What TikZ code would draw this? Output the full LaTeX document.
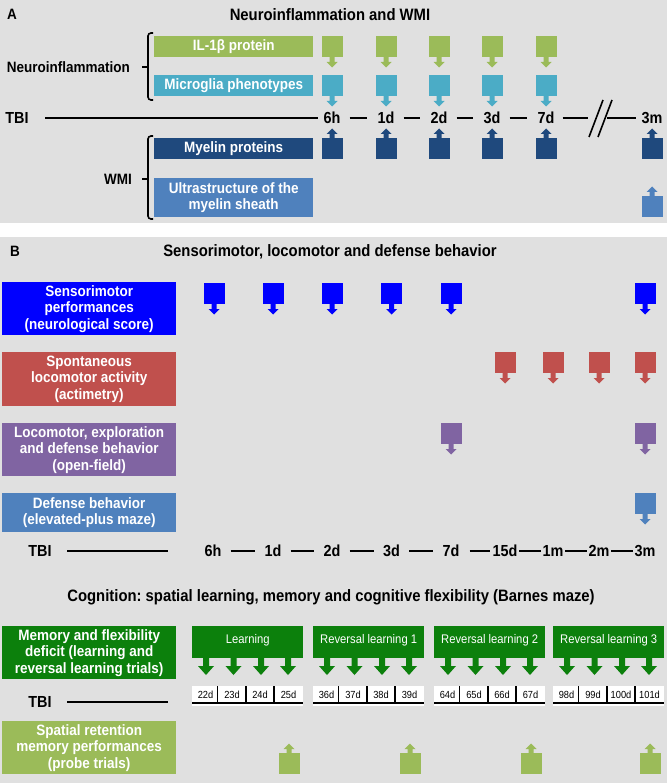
\documentclass[tikz,border=0pt]{standalone}
\usepackage{fontspec}
\setmainfont{Liberation Sans}[FakeStretch=0.9]
\definecolor{bg}{HTML}{E0E0E0}
\definecolor{lgreen}{HTML}{9BBB59}
\definecolor{cyanA}{HTML}{4BACC6}
\definecolor{navyA}{HTML}{1F497D}
\definecolor{mblue}{HTML}{4F81BD}
\definecolor{pblue}{HTML}{0000FF}
\definecolor{redB}{HTML}{C0504D}
\definecolor{purpB}{HTML}{8064A2}
\definecolor{dgreen}{HTML}{0C800C}
\tikzset{
  lab/.style={font=\fontsize{15}{17}\selectfont\bfseries, inner sep=1pt},
  tlab/.style={font=\fontsize{16}{18}\selectfont\bfseries, inner sep=1pt},
  ttl/.style={font=\fontsize{16.5}{18}\selectfont\bfseries, inner sep=1pt},
  box/.style={font=\fontsize{15}{16.5}\selectfont\bfseries, text=white, align=center, inner sep=0pt, anchor=north west},
  gbox/.style={font=\fontsize{12.5}{14}\selectfont, text=white, inner sep=0pt, anchor=north west, fill=dgreen,
    minimum width=111pt, minimum height=32pt, text height=9pt, text depth=6pt},
  sq/.style={minimum size=21pt, inner sep=0pt, outer sep=0pt},
  day/.style={font=\fontsize{10.3}{12}\selectfont, inner sep=0pt},
  tl/.style={line width=1.5pt},
  brk/.style={line width=1.6pt, rounded corners=3pt},
  pics/dn/.style={code={\fill[#1] (-2.5,-0.3) -- (2.5,-0.3) -- (2.5,5) -- (5.5,5) -- (0,10.5) -- (-5.5,5) -- (-2.5,5) -- cycle;}},
  pics/up/.style={code={\fill[#1] (-2.5,0.3) -- (2.5,0.3) -- (2.5,-4) -- (5.5,-4) -- (0,-9.5) -- (-5.5,-4) -- (-2.5,-4) -- cycle;}},
  pics/bigdn/.style={code={\fill[#1] (-3,-0.3) -- (3,-0.3) -- (3,8) -- (8,8) -- (0,17) -- (-8,8) -- (-3,8) -- cycle;}},
}
\begin{document}
\frenchspacing
\begin{tikzpicture}[x=1pt,y=-1pt]
\useasboundingbox (0,0) rectangle (667,783);
\fill[white] (0,0) rectangle (667,783);
\fill[bg] (0,0) rectangle (667,223);
\fill[bg] (0,237) rectangle (667,783);

% ---------------- Panel A ----------------
\node[lab] (A) at (12,14) {A};
\node[ttl] (titleA) at (330,15) {Neuroinflammation and WMI};

\node[lab, anchor=east] (neuro) at (131,67) {Neuroinflammation};
\node[lab, anchor=east] (wmi) at (133,179) {WMI};
\draw[brk] (153,33) -- (148,33) -- (148,100) -- (153,100);
\draw[line width=1.6pt] (142,67) -- (148,67);
\draw[brk] (153,136) -- (148,136) -- (148,219) -- (153,219);
\draw[line width=1.6pt] (142,179) -- (148,179);

\node[box, fill=lgreen, minimum width=159pt, minimum height=21pt] (il) at (154,36) {IL-1β protein};
\node[box, fill=cyanA, minimum width=159pt, minimum height=21pt] (mic) at (154,75) {Microglia phenotypes};
\node[box, fill=navyA, minimum width=159pt, minimum height=21pt] (mye) at (154,138) {Myelin proteins};
\node[box, fill=mblue, minimum width=159pt, minimum height=39pt] (ult) at (154,178) {Ultrastructure of the\\myelin sheath};

\node[tlab, anchor=center] (tbiA) at (17,118) {TBI};
\coordinate (tbiAs) at (45,118);
\coordinate (tbiAe) at (318,118);
\draw[tl] (tbiAs) -- (tbiAe);

\foreach \x/\n/\t in {332/1/6h,386/2/1d,439/3/2d,492/4/3d,546/5/7d} {
  \node[tlab] (ta\n) at (\x,118) {\t};
  \node[sq, fill=lgreen] (g\n) at (\x,46.5) {};
  \pic at (g\n.south) {dn=lgreen};
  \node[sq, fill=cyanA] (c\n) at (\x,85.5) {};
  \pic at (c\n.south) {dn=cyanA};
  \node[sq, fill=navyA] (m\n) at (\x,148.5) {};
  \pic at (m\n.north) {up=navyA};
}
\node[tlab] (ta6) at (652,118) {3m};
\node[sq, fill=navyA] (m6) at (652,148.5) {};
\pic at (m6.north) {up=navyA};
\node[sq, fill=mblue] (u6) at (652,206.5) {};
\pic at (u6.north) {up=mblue};

\foreach \a/\b in {1/2,2/3,3/4,4/5} {
  \draw[tl, shorten <=8pt, shorten >=9pt] (ta\a.east) -- (ta\b.west);
}
\coordinate (bk1) at (588,118);
\coordinate (bk2) at (607,118);
\draw[tl, shorten <=7pt] (ta5.east) -- (bk1);
\draw[tl, shorten >=4pt] (bk2) -- (ta6.west);
\draw[line width=1.6pt] (589,137) -- (603,100);
\draw[line width=1.6pt] (598,137) -- (612,100);

% ---------------- Panel B ----------------
\node[lab] (B) at (15,251) {B};
\node[ttl] (titleB) at (330,252) {Sensorimotor, locomotor and defense behavior};

\node[box, fill=pblue, minimum width=174pt, minimum height=53pt] (sens) at (2,282) {Sensorimotor\\performances\\(neurological score)};
\node[box, fill=redB, minimum width=174pt, minimum height=54pt] (spont) at (2,352) {Spontaneous\\locomotor activity\\(actimetry)};
\node[box, fill=purpB, minimum width=174pt, minimum height=53pt] (loco) at (2,423) {Locomotor, exploration\\and defense behavior\\(open-field)};
\node[box, fill=mblue, minimum width=174pt, minimum height=39pt] (def) at (2,493) {Defense behavior\\(elevated-plus maze)};

\node[tlab] (tbiB) at (40,551) {TBI};
\coordinate (tbiBs) at (67,551);
\coordinate (tbiBe) at (168,551);
\draw[tl] (tbiBs) -- (tbiBe);

\foreach \x/\n/\t in {213/1/6h,273/2/1d,332/3/2d,391.5/4/3d,451/5/7d,505/6/15d,553/7/1m,599/8/2m,645/9/3m} {
  \node[tlab] (tb\n) at (\x,551) {\t};
}
\foreach \a/\b in {1/2,2/3,3/4,4/5} {
  \draw[tl, shorten <=8pt, shorten >=8pt] (tb\a.east) -- (tb\b.west);
}
\draw[tl, shorten <=9pt, shorten >=1pt] (tb5.east) -- (tb6.west);
\foreach \a/\b in {6/7,7/8,8/9} {
  \draw[tl, shorten <=0.5pt, shorten >=0.5pt] (tb\a.east) -- (tb\b.west);
}

\foreach \x/\n in {214/1,273/2,332/3,391.5/4,451/5,645/6} {
  \node[sq, fill=pblue] (s\n) at (\x,293.5) {};
  \pic at (s\n.south) {dn=pblue};
}
\foreach \x/\n in {505/1,553/2,599/3,645/4} {
  \node[sq, fill=redB] (r\n) at (\x,362.5) {};
  \pic at (r\n.south) {dn=redB};
}
\foreach \x/\n in {451/1,645/2} {
  \node[sq, fill=purpB] (p\n) at (\x,433.5) {};
  \pic at (p\n.south) {dn=purpB};
}
\node[sq, fill=mblue] (d1) at (645,503.5) {};
\pic at (d1.south) {dn=mblue};

% ---------------- Cognition ----------------
\node[ttl] (titleC) at (331,597) {Cognition: spatial learning, memory and cognitive flexibility (Barnes maze)};

\node[box, fill=dgreen, minimum width=174pt, minimum height=53pt] (memb) at (2,626) {Memory and flexibility\\deficit (learning and\\reversal learning trials)};
\node[box, fill=lgreen, minimum width=174pt, minimum height=53pt] (spat) at (2,721) {Spatial retention\\memory performances\\(probe trials)};

\node[tlab] (tbiC) at (40,702) {TBI};
\coordinate (tbiCs) at (67,702);
\coordinate (tbiCe) at (168,702);
\draw[tl] (tbiCs) -- (tbiCe);

\foreach \L/\n/\t/\da/\db/\dc/\dd in {192/1/Learning/22d/23d/24d/25d,
    313/2/Reversal learning 1/36d/37d/38d/39d,
    434/3/Reversal learning 2/64d/65d/66d/67d,
    553/4/Reversal learning 3/98d/99d/100d/101d} {
  \node[gbox] (grp\n) at (\L,626) {\t};
  \foreach \o in {14,41.5,69,96} {
    \pic at (\L+\o,658) {bigdn=dgreen};
  }
  \fill[white] (\L,686) rectangle (\L+111,706);
  \node[day] (da\n) at (\L+13.5,694.5) {\da};
  \node[day] (db\n) at (\L+40,694.5) {\db};
  \node[day] (dc\n) at (\L+68,694.5) {\dc};
  \node[day] (dd\n) at (\L+96.5,694.5) {\dd};
  \draw[line width=1.8pt] (\L,703) -- (\L+111,703);
  \foreach \v in {25.5,54,82} {
    \draw[line width=1.8pt] (\L+\v,686) -- (\L+\v,703.9);
  }
  \node[sq, fill=lgreen] (pr\n) at (\L+97,763.5) {};
  \pic at (pr\n.north) {up=lgreen};
}
\end{tikzpicture}
\end{document}
